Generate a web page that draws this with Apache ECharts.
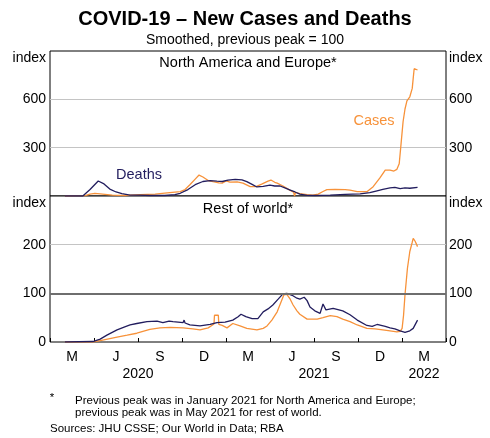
<!DOCTYPE html>
<html><head><meta charset="utf-8">
<script src="https://cdn.jsdelivr.net/npm/echarts@6/dist/echarts.min.js"></script>
<style>html,body{margin:0;padding:0;background:#fff}#c{width:490px;height:438px}</style>
</head><body><div id="c"></div><script>
// ---- data ----
const quarterLabels = ['M','J','S','D','M','J','S','D','M'];
const yearLabels = ['','','','','2020','','','','','','','','2021','','','','','2022',''];

const naDeathsDates = ['2020-02-01','2020-03-09','2020-03-24','2020-04-10','2020-04-22','2020-05-04','2020-05-17','2020-05-29','2020-06-15','2020-07-06','2020-07-26','2020-08-26','2020-09-16','2020-09-27','2020-10-13','2020-10-28','2020-11-13','2020-11-28','2020-12-12','2020-12-23','2020-12-27','2021-01-04','2021-01-19','2021-02-02','2021-02-12','2021-02-23','2021-03-05','2021-03-18','2021-04-01','2021-04-11','2021-04-22','2021-05-02','2021-05-13','2021-05-23','2021-06-02','2021-06-17','2021-07-03','2021-08-04','2021-09-04','2021-10-05','2021-10-25','2021-11-09','2021-11-21','2021-12-06','2021-12-16','2021-12-27','2022-01-06','2022-01-16','2022-02-01'];
const naDeaths = [0,0,40,93,75,43,25,15,6,5,3,3,8,17,40,70,90,95,92,90,85,98,103,100,89,72,56,60,68,62,62,50,37,25,12,4,3,6,10,13,21,32,41,50,53,46,50,48,54];

const naCasesDates = ['2020-02-01','2020-03-14','2020-03-24','2020-04-03','2020-04-14','2020-04-24','2020-05-09','2020-06-04','2020-07-06','2020-08-06','2020-08-31','2020-09-27','2020-10-07','2020-10-17','2020-10-28','2020-11-05','2020-11-13','2020-11-24','2020-12-04','2020-12-16','2020-12-23','2020-12-31','2021-01-08','2021-01-23','2021-02-04','2021-02-19','2021-03-03','2021-03-16','2021-03-28','2021-04-03','2021-04-11','2021-04-16','2021-04-20','2021-04-28','2021-05-13','2021-05-20','2021-05-22','2021-05-24','2021-06-02','2021-06-17','2021-06-29','2021-07-10','2021-07-20','2021-07-28','2021-08-14','2021-09-04','2021-09-14','2021-09-29','2021-10-19','2021-11-01','2021-11-15','2021-11-26','2021-12-06','2021-12-14','2021-12-20','2021-12-25','2021-12-29','2022-01-02','2022-01-06','2022-01-10','2022-01-16','2022-01-21','2022-01-23','2022-01-25','2022-01-29','2022-02-01'];
const naCases = [0,2,12,16,13,10,5,3,8,12,20,27,40,70,105,130,118,96,89,82,80,94,86,87,80,58,58,75,92,99,85,80,88,62,35,24,0,22,15,8,5,12,28,40,41,40,36,27,27,58,112,161,160,155,165,200,330,461,540,590,616,668,730,790,796,782];

const rowDeathsDates = ['2020-02-01','2020-03-30','2020-04-14','2020-04-28','2020-05-19','2020-06-04','2020-06-15','2020-06-29','2020-07-20','2020-08-10','2020-08-22','2020-09-04','2020-09-06','2020-09-08','2020-09-12','2020-10-03','2020-10-05','2020-10-07','2020-10-17','2020-11-07','2020-11-28','2020-12-12','2020-12-29','2021-01-14','2021-01-25','2021-01-31','2021-02-10','2021-02-23','2021-03-07','2021-03-18','2021-03-28','2021-04-07','2021-04-18','2021-04-28','2021-05-06','2021-05-17','2021-05-27','2021-06-02','2021-06-11','2021-06-17','2021-06-23','2021-07-03','2021-07-14','2021-07-18','2021-07-20','2021-07-24','2021-07-26','2021-08-10','2021-08-30','2021-09-14','2021-09-29','2021-10-19','2021-10-30','2021-11-09','2021-11-26','2021-12-06','2021-12-16','2021-12-27','2022-01-06','2022-01-16','2022-01-23','2022-01-27','2022-02-01'];
const rowDeaths = [0,1,6,14,25,31,35,38,42,43,40,43,47,41,42,40,45,39,35,33,36,40,41,45,52,57,52,48,48,62,68,76,88,99,100,96,90,88,92,85,72,64,59,60,78,77,66,69,64,56,45,34,32,36,32,29,27,23,20,23,28,32,45];

const rowCasesDates = ['2020-02-01','2020-03-30','2020-04-14','2020-05-04','2020-05-19','2020-06-09','2020-06-29','2020-07-26','2020-08-16','2020-09-06','2020-10-03','2020-10-23','2020-11-07','2020-11-24','2020-12-06','2020-12-07','2020-12-15','2020-12-16','2020-12-23','2021-01-02','2021-01-14','2021-01-29','2021-02-12','2021-03-05','2021-03-18','2021-03-26','2021-04-05','2021-04-16','2021-04-24','2021-04-30','2021-05-06','2021-05-13','2021-05-19','2021-05-27','2021-06-02','2021-06-17','2021-07-08','2021-07-20','2021-08-04','2021-08-18','2021-08-30','2021-09-14','2021-09-29','2021-10-19','2021-11-05','2021-11-21','2021-12-06','2021-12-20','2021-12-27','2021-12-31','2022-01-03','2022-01-06','2022-01-11','2022-01-16','2022-01-21','2022-01-23','2022-01-27','2022-01-29','2022-02-01'];
const rowCases = [0,0,3,7,10,14,18,26,29,30,29,27,25,29,37,55,55,36,34,29,38,33,28,25,28,33,45,62,82,97,98,88,76,64,57,47,47,50,54,52,47,42,35,28,27,25,23,21,22,28,55,97,151,186,205,213,207,210,196];

// ---- styling ----
const FONT = "'Liberation Sans', Arial, Helvetica, sans-serif";
const ORANGE = '#f7923a';
const NAVY = '#221d5e';
const zip = (d, v) => d.map((x, i) => [x, v[i]]);

function yAxisCfg(grid, pos, max, showSplit) {
  return {
    type: 'value', gridIndex: grid, position: pos, min: 0, max: max, interval: max / 3,
    axisLine: { show: false }, axisTick: { show: false },
    splitLine: { show: showSplit, showMinLine: false, showMaxLine: false, lineStyle: { color: '#c4c4c4', width: 1 } },
    axisLabel: {
      margin: pos === 'left' ? 4 : 3, fontSize: 14, color: '#000', fontFamily: FONT,
      formatter: v => v === max ? '{idx|index}' : (v === 0 && grid === 0 ? '' : String(v)),
      rich: { idx: { fontSize: 14, color: '#000', fontFamily: FONT, padding: [14, 0, 0, 0] } }
    }
  };
}

function txt(text, x, y, size, opts) {
  opts = opts || {};
  return {
    text: text, left: x, top: y, padding: 0,
    textAlign: opts.align || 'center', textVerticalAlign: opts.valign || 'middle',
    textStyle: { fontSize: size, fontWeight: opts.bold ? 'bold' : 'normal', color: opts.color || '#000', fontFamily: FONT, lineHeight: opts.lh }
  };
}

const lineSeries = (name, data, color, xi, yi, extra) => Object.assign({
  name: name, type: 'line', data: data, xAxisIndex: xi, yAxisIndex: yi,
  symbol: 'none', showSymbol: false, animation: false, silent: true,
  lineStyle: { color: color, width: 1.3 }, itemStyle: { color: color }
}, extra || {});

const option = {
  animation: false,
  backgroundColor: '#fff',
  title: [
    txt('COVID-19 – New Cases and Deaths', 245, 19, 20, { bold: true }),
    txt('Smoothed, previous peak = 100', 245, 40, 14),
    txt('North America and Europe*', 248, 63, 14.5),
    txt('Rest of world*', 248, 209, 14.5),
    txt('Cases', 374, 121, 14.5, { color: ORANGE }),
    txt('Deaths', 139, 175, 14.5, { color: NAVY }),
    txt('*', 52, 392, 11.5, { valign: 'top' }),
    txt('Previous peak was in January 2021 for North America and Europe;\nprevious peak was in May 2021 for rest of world.', 75, 395, 11.5, { align: 'left', valign: 'top', lh: 12 }),
    txt('Sources: JHU CSSE; Our World in Data; RBA', 50, 423, 11.5, { align: 'left', valign: 'top' })
  ],
  grid: [
    { left: 50, top: 51, width: 396, height: 145, show: true, borderColor: '#000', borderWidth: 1, backgroundColor: '#fff' },
    { left: 50, top: 196, width: 396, height: 146, show: true, borderColor: '#000', borderWidth: 1, backgroundColor: '#fff' }
  ],
  xAxis: [
    { type: 'time', gridIndex: 0, position: 'bottom', min: '2020-01-01', max: '2022-04-01', show: false, axisLine: { onZero: false } },
    { type: 'time', gridIndex: 1, position: 'bottom', min: '2020-01-01', max: '2022-04-01', show: false, axisLine: { onZero: false } },
    { type: 'category', gridIndex: 1, position: 'bottom', data: quarterLabels, boundaryGap: true,
      axisLine: { show: false, onZero: false },
      axisTick: { show: true, inside: true, length: 4, interval: 0, lineStyle: { color: '#000', width: 1 } },
      axisLabel: { interval: 0, margin: 8, fontSize: 14, color: '#000', fontFamily: FONT },
      splitLine: { show: false } },
    { type: 'category', gridIndex: 1, position: 'bottom', offset: 17, data: yearLabels, boundaryGap: false,
      axisLine: { show: false, onZero: false }, axisTick: { show: false },
      axisLabel: { interval: 0, margin: 8, fontSize: 14, color: '#000', fontFamily: FONT },
      splitLine: { show: false } }
  ],
  yAxis: [
    yAxisCfg(0, 'left', 900, true),
    yAxisCfg(0, 'right', 900, false),
    yAxisCfg(1, 'left', 300, true),
    yAxisCfg(1, 'right', 300, false)
  ],
  series: [
    lineSeries('NA Cases', zip(naCasesDates, naCases), ORANGE, 0, 0),
    lineSeries('NA Deaths', zip(naDeathsDates, naDeaths), NAVY, 0, 0),
    lineSeries('RoW Cases', zip(rowCasesDates, rowCases), ORANGE, 1, 2, {
      markLine: { silent: true, symbol: ['none', 'none'], label: { show: false }, animation: false,
        lineStyle: { color: '#6e6e6e', width: 2, type: 'solid' }, data: [{ yAxis: 100 }] }
    }),
    lineSeries('RoW Deaths', zip(rowDeathsDates, rowDeaths), NAVY, 1, 2)
  ]
};
const chart = echarts.init(document.getElementById('c'));
chart.setOption(option);
</script></body></html>
